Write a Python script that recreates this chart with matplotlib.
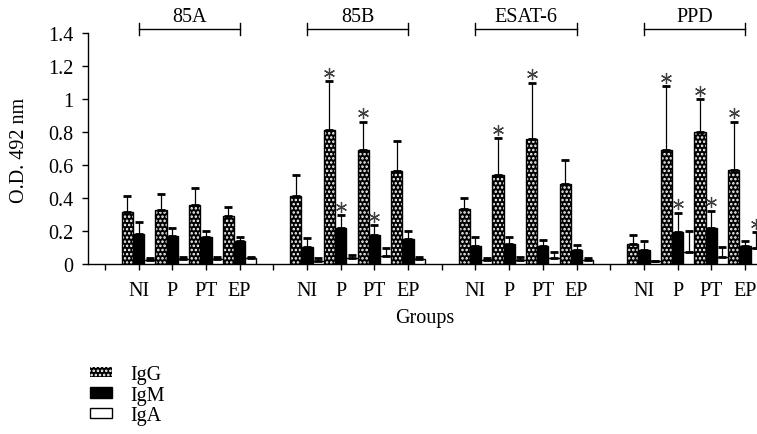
import numpy as np
import matplotlib
matplotlib.use("Agg")
import matplotlib.pyplot as plt
from matplotlib.patches import Patch
from matplotlib import transforms

plt.rcParams['font.family'] = ['Liberation Serif', 'DejaVu Serif']
plt.rcParams['hatch.linewidth'] = 1.2

antigens = ['85A', '85B', 'ESAT-6', 'PPD']
groups = ['NI', 'P', 'PT', 'EP']
isotypes = ['IgG', 'IgM', 'IgA']

# order: 85A(NI,P,PT,EP), 85B(...), ESAT-6(...), PPD(...)
igg_mean = [0.316, 0.328, 0.358, 0.288,
            0.412, 0.810, 0.692, 0.563,
            0.332, 0.537, 0.756, 0.487,
            0.121, 0.692, 0.800, 0.571]
igg_sd = [0.096, 0.094, 0.102, 0.058,
          0.129, 0.298, 0.171, 0.185,
          0.068, 0.225, 0.341, 0.141,
          0.056, 0.384, 0.200, 0.292]
igm_mean = [0.181, 0.167, 0.163, 0.139,
            0.103, 0.217, 0.175, 0.151,
            0.107, 0.121, 0.109, 0.083,
            0.084, 0.193, 0.219, 0.107]
igm_sd = [0.074, 0.052, 0.040, 0.026,
          0.052, 0.079, 0.059, 0.050,
          0.058, 0.044, 0.038, 0.034,
          0.053, 0.117, 0.103, 0.032]
iga_mean = [0.024, 0.028, 0.030, 0.034,
            0.016, 0.038, 0.048, 0.030,
            0.026, 0.026, 0.034, 0.026,
            0.016, 0.070, 0.040, 0.098]
iga_sd = [0.010, 0.016, 0.014, 0.010,
          0.018, 0.018, 0.047, 0.010,
          0.012, 0.018, 0.040, 0.012,
          0.004, 0.133, 0.064, 0.095]
igg_sig = [0, 0, 0, 0, 0, 1, 1, 0, 0, 1, 1, 0, 0, 1, 1, 1]
igm_sig = [0, 0, 0, 0, 0, 1, 1, 0, 0, 0, 0, 0, 0, 1, 1, 0]
iga_sig = [0, 0, 0, 0, 0, 0, 0, 0, 0, 0, 0, 0, 0, 0, 0, 1]

FS = 14.5
W, H = 757, 435
fig = plt.figure(figsize=(W / 100, H / 100), dpi=100)
unit = 11.23
left_px, bottom_px, top_px = 88, 265, 34
xmax = 61.5
ax = fig.add_axes([left_px / W, 1 - bottom_px / H,
                   xmax * unit / W, (bottom_px - top_px) / H])

block = 15.0
n_ant = len(antigens)
n_grp = len(groups)
gstart = np.array([3 + block * a + 3 * g for a in range(n_ant) for g in range(n_grp)])
centers = gstart + 1.5

series = [
    (igg_mean, igg_sd, igg_sig, 0.5),
    (igm_mean, igm_sd, igm_sig, 1.5),
    (iga_mean, iga_sd, iga_sig, 2.5),
]

# IgG: black with white dots pattern
x_g = gstart + 0.5
ax.bar(x_g, igg_mean, width=1.0, color='black', edgecolor='white',
       hatch='....', linewidth=0, zorder=2)
ax.bar(x_g, igg_mean, width=1.0, fill=False, edgecolor='black',
       linewidth=1.0, zorder=3)
# IgM
ax.bar(gstart + 1.5, igm_mean, width=1.0, color='black', edgecolor='black',
       linewidth=1.0, zorder=3)
# IgA
ax.bar(gstart + 2.5, iga_mean, width=1.0, color='white', edgecolor='black',
       linewidth=1.0, zorder=3)

star_tr = transforms.offset_copy(ax.transData, fig=fig, x=0, y=8.5, units='dots')
for mean, sd, sig, off in series:
    xs = gstart + off
    mean = np.array(mean)
    sd = np.array(sd)
    ax.errorbar(xs, mean, yerr=[np.zeros_like(sd), sd], fmt='none',
                ecolor='black', elinewidth=0.9, capsize=3, capthick=2,
                zorder=4, clip_on=False)
    sig = np.array(sig, dtype=bool)
    ax.plot(xs[sig], (mean + sd)[sig], linestyle='none', marker=(6, 2, 0),
            markersize=8, markeredgewidth=0.9, color='#404040',
            transform=star_tr, clip_on=False, zorder=5)

ax.set_ylim(0, 1.4)
ax.set_xlim(0, xmax)
ax.set_yticks(np.arange(0, 1.41, 0.2))
ax.set_yticklabels(['0', '0.2', '0.4', '0.6', '0.8', '1', '1.2', '1.4'])
ax.set_xticks(centers)
ax.set_xticklabels(groups * n_ant)
ax.set_xticks([1.5 + block * a for a in range(n_ant)], minor=True)
ax.tick_params(axis='x', which='both', direction='out', length=4.3, width=1,
               pad=8, labelsize=FS)
ax.tick_params(axis='y', direction='out', length=4.3, width=1, pad=6, labelsize=FS)
for s in ['top', 'right']:
    ax.spines[s].set_visible(False)
for s in ['left', 'bottom']:
    ax.spines[s].set_linewidth(1.0)

# brackets with antigen names
for a, name in enumerate(antigens):
    x0 = centers[a * n_grp]
    x1 = centers[a * n_grp + n_grp - 1]
    yb = 1.424
    ax.plot([x0, x1], [yb, yb], color='black', lw=1.0, clip_on=False)
    for xe in (x0, x1):
        ax.plot([xe, xe], [yb - 0.036, yb + 0.036], color='black', lw=1.0,
                clip_on=False)
    ax.text((x0 + x1) / 2, 1.50, name, ha='center', va='center', fontsize=FS)

fig.text(20 / W, 1 - 150 / H, 'O.D. 492 nm', rotation=90, ha='center',
         va='center', fontsize=FS)
fig.text(425 / W, 1 - 318 / H, 'Groups', ha='center', va='center', fontsize=FS)

handles = [
    Patch(facecolor='black', edgecolor='white', hatch='....', linewidth=0),
    Patch(facecolor='black', edgecolor='black'),
    Patch(facecolor='white', edgecolor='black'),
]
fig.legend(handles, isotypes, loc='upper left',
           bbox_to_anchor=(90 / W, 1 - 366 / H), frameon=False,
           borderpad=0, borderaxespad=0, handlelength=1.1, handleheight=0.42,
           handletextpad=0.9, labelspacing=0.08, fontsize=FS)

fig.savefig('out.png', dpi=100)
